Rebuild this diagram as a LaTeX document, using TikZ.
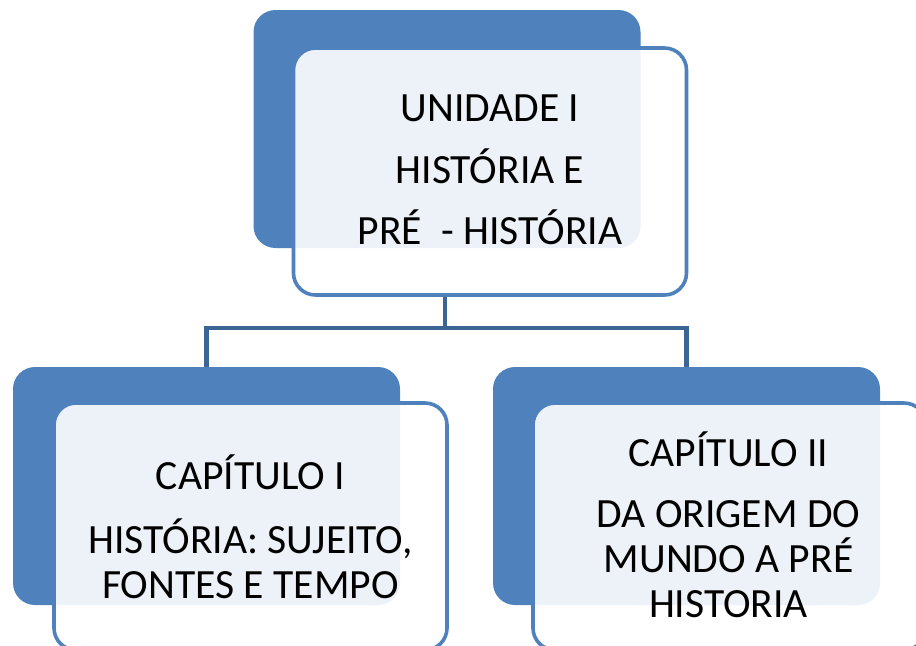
\documentclass[tikz,border=0pt]{standalone}
\usepackage{fontspec}
\setmainfont{Carlito}
\usetikzlibrary{positioning,calc}
\definecolor{boxblue}{HTML}{4F81BD}
\definecolor{linkblue}{HTML}{3C6596}

\begin{document}
\begin{tikzpicture}[x=0.5pt,y=-0.5pt,
    backbox/.style={rectangle, rounded corners=11pt, fill=boxblue,
        minimum width=193.5pt, minimum height=119pt, inner sep=0pt},
    frontbox/.style={rectangle, rounded corners=11pt, draw=boxblue, line width=1.8pt,
        fill=white, fill opacity=0.9, minimum width=196.5pt, minimum height=123.5pt, inner sep=0pt},
    boxtext/.style={align=center, font=\fontsize{20.8}{22.5}\selectfont, inner sep=0pt},
    link/.style={draw=linkblue, line width=2.2pt}]
    \clip (0,0) rectangle (916,645);
    \fill[white] (0,0) rectangle (916,645);
    % top
    \node[backbox] (topback) at (447,129) {};
    \node[frontbox] (topbox) at (490,171.5) {};
    \node[boxtext] (toptext) at ([yshift=1pt]topbox.center) {UNIDADE I\\[8.5pt] HISTÓRIA E\\[8pt] PRÉ\ \ - HISTÓRIA};
    % chapters
    \node[backbox] (leftback) at (206.5,486) {};
    \node[frontbox] (leftbox) at (250.5,526.5) {};
    \node[boxtext] (lefttext) at (leftbox.center) {CAPÍTULO I\\[9.5pt] HISTÓRIA: SUJEITO,\\ FONTES E TEMPO};
    \node[backbox] (rightback) at (686.5,486) {};
    \node[frontbox] (rightbox) at (729.5,526.5) {};
    \node[boxtext] (righttext) at ([xshift=-0.5pt,yshift=1pt]rightbox.center) {CAPÍTULO II\\[8pt] DA ORIGEM DO\\ MUNDO A PRÉ\\ HISTORIA};
    % connectors
    \coordinate (split) at (445,328);
    \draw[link] (topbox.south -| split) -- (split);
    \draw[link] (leftback.north) |- (split) -| (rightback.north);
\end{tikzpicture}
\end{document}
